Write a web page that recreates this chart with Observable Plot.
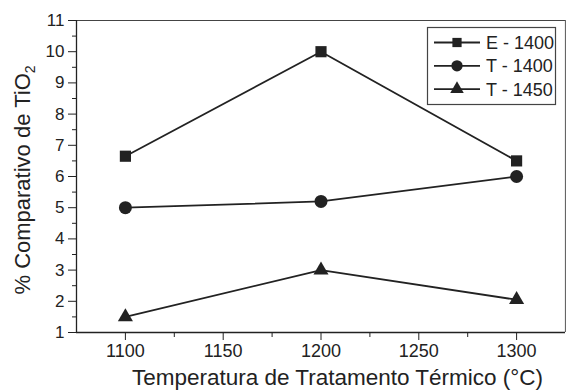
<!DOCTYPE html>
<html>
<head>
<meta charset="utf-8">
<script src="https://cdn.jsdelivr.net/npm/d3@7"></script>
<script src="https://cdn.jsdelivr.net/npm/@observablehq/plot@0.6"></script>
<style>
  html, body { margin: 0; padding: 0; background: #fff; }
  #wrap { position: relative; width: 566px; height: 390px; }
  #legend { position: absolute; left: 0; top: 0; pointer-events: none; }
</style>
</head>
<body>
<div id="wrap"></div>
<script>
// ---- data ----
const temps = [1100, 1200, 1300];
const e1400 = [6.65, 10.0, 6.5];
const t1400 = [5.0, 5.2, 6.0];
const t1450 = [1.5, 3.0, 2.05];
const seriesNames = ["E - 1400", "T - 1400", "T - 1450"];
const seriesSymbols = ["square", "circle", "triangle"];
const xDomain = [1075, 1325];
const yDomain = [1, 11];
const xTicks = [1100, 1150, 1200, 1250, 1300];
const xMinor = [1125, 1175, 1225, 1275];
const yTicks = [1, 2, 3, 4, 5, 6, 7, 8, 9, 10, 11];
const yMinor = [1.5, 2.5, 3.5, 4.5, 5.5, 6.5, 7.5, 8.5, 9.5, 10.5];
const xTitle = "Temperatura de Tratamento Térmico (°C)";
const yTitleMain = "% Comparativo de TiO";
const yTitleSub = "2";

const ink = "#222";
const font = "Liberation Sans, Arial, sans-serif";

const seriesValues = [e1400, t1400, t1450];
const rows = seriesValues.flatMap((vals, si) =>
  temps.map((t, i) => ({temp: t, value: vals[i], series: seriesNames[si]})));
const radii = {square: 6.3, circle: 6.5, triangle: 5.6};

const marks = [
  Plot.ruleY([yDomain[1]], {stroke: "#444", strokeWidth: 1.2}),
  Plot.ruleX([xDomain[1]], {stroke: "#666", strokeWidth: 1.2}),
  Plot.ruleY([yDomain[0]], {stroke: ink, strokeWidth: 1.3}),
  Plot.ruleX([xDomain[0]], {stroke: ink, strokeWidth: 1.3}),
  Plot.axisX({ticks: xTicks, tickSize: 8, tickPadding: 4, label: null, stroke: ink, fill: ink, tickFormat: d => String(d)}),
  Plot.axisX({ticks: xMinor, tickSize: 5, text: null, label: null, stroke: ink}),
  Plot.axisY({ticks: yTicks, tickSize: 8, tickPadding: 4, label: null, stroke: ink, fill: ink}),
  Plot.axisY({ticks: yMinor, tickSize: 4, text: null, label: null, stroke: ink}),
];
seriesNames.forEach((name, si) => {
  const d = rows.filter(r => r.series === name);
  marks.push(Plot.line(d, {x: "temp", y: "value", stroke: ink, strokeWidth: 1.8}));
  marks.push(Plot.dot(d, {x: "temp", y: "value", symbol: () => seriesSymbols[si], r: radii[seriesSymbols[si]], fill: ink, stroke: "none"}));
});

const chart = Plot.plot({
  width: 566,
  height: 390,
  marginLeft: 76,
  marginRight: 1,
  marginTop: 20,
  marginBottom: 58,
  style: {fontFamily: font, background: "#fff", color: ink},
  x: {domain: xDomain},
  y: {domain: yDomain},
  symbol: {domain: seriesSymbols, range: seriesSymbols},
  marks
});
document.getElementById("wrap").appendChild(chart);

const svg = d3.select(chart);
// enlarge tick labels
const xTickStr = xTicks.map(String);
svg.selectAll("text").each(function () {
  const t = this.textContent.trim();
  d3.select(this).style("font-size", xTickStr.includes(t) ? "18px" : "17px");
});

// axis titles (with subscript)
const xs = chart.scale("x"), ys = chart.scale("y");
const xMid = (xs.range[0] + xs.range[1]) / 2;
const yMid = (ys.range[0] + ys.range[1]) / 2;
svg.append("text")
  .attr("x", xMid + 17).attr("y", 385)
  .attr("text-anchor", "middle")
  .style("font-family", font).style("font-size", "22.5px").attr("fill", ink)
  .text(xTitle);
const yt = svg.append("text")
  .attr("transform", `translate(30,${yMid + 4}) rotate(-90)`)
  .attr("text-anchor", "middle")
  .style("font-family", font).style("font-size", "22px").attr("fill", ink);
yt.append("tspan").text(yTitleMain);
yt.append("tspan").style("font-size", "14px").attr("dy", 5).text(yTitleSub);

// legend
const leg = d3.select("#wrap").append("svg")
  .attr("id", "legend").attr("width", 566).attr("height", 390);
leg.append("rect")
  .attr("x", 427.5).attr("y", 27.5).attr("width", 128).attr("height", 77)
  .attr("fill", "#fff").attr("stroke", "#444").attr("stroke-width", 1.2);
const legSizes = {square: 85, circle: 100, triangle: 80};
const legSym = {square: d3.symbolSquare, circle: d3.symbolCircle, triangle: d3.symbolTriangle};
seriesNames.forEach((name, i) => {
  const cy = 42.5 + i * 23.3;
  const g = leg.append("g");
  g.append("line").attr("x1", 434).attr("x2", 480).attr("y1", cy).attr("y2", cy)
    .attr("stroke", ink).attr("stroke-width", 1.8);
  g.append("path")
    .attr("transform", `translate(457,${cy})`)
    .attr("d", d3.symbol(legSym[seriesSymbols[i]], legSizes[seriesSymbols[i]])())
    .attr("fill", ink);
  g.append("text").attr("x", 486).attr("y", cy + 6.5)
    .style("font-family", font).style("font-size", "18px").attr("fill", ink)
    .text(name);
});
</script>
</body>
</html>
